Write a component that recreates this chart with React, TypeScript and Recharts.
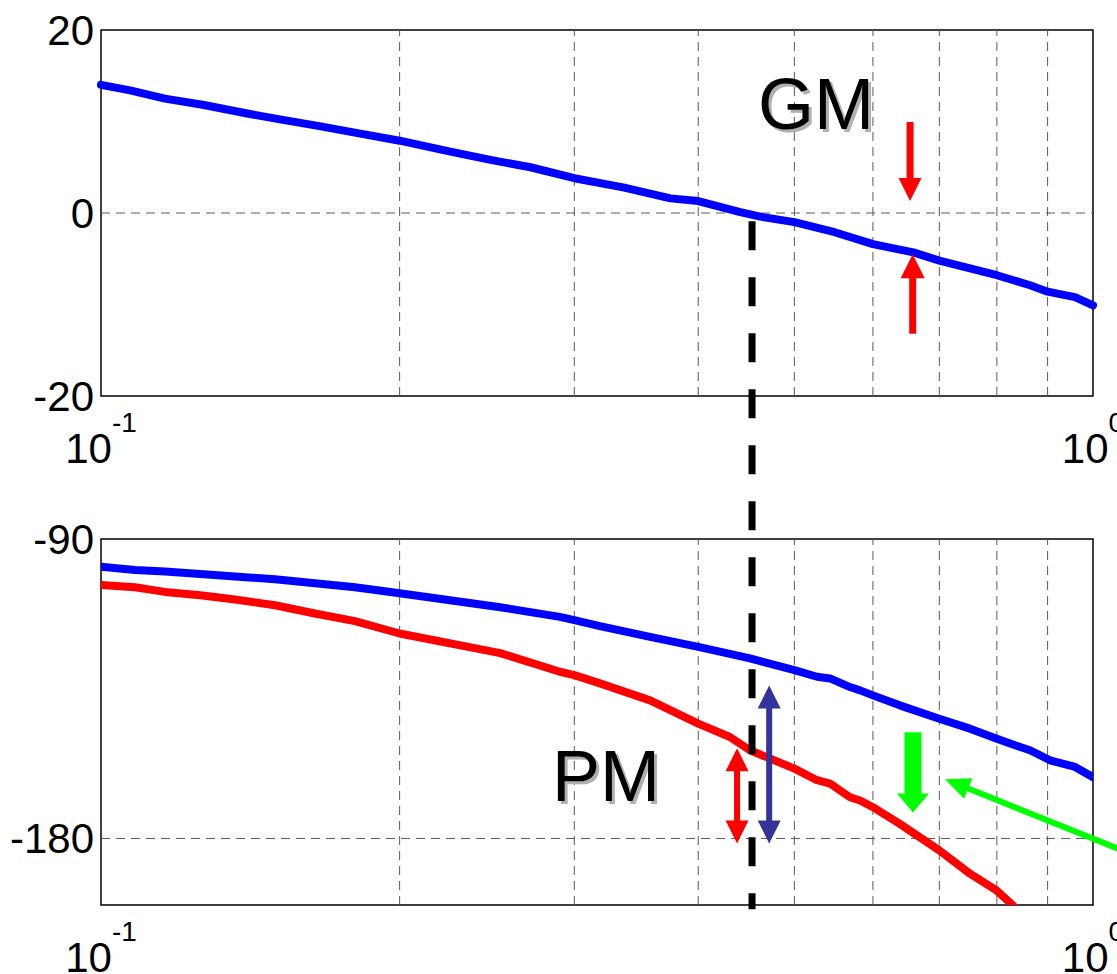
import React from 'react';
import { LineChart, Line, XAxis, YAxis, ReferenceLine, ReferenceArea, ReferenceDot } from 'recharts';

// ---------- data ----------
const FREQ_TICKS = [0.1, 1];
const GRID_X = [0.2, 0.3, 0.4, 0.5, 0.6, 0.7, 0.8, 0.9];

const MAG_TICKS = [-20, 0, 20];
const MAG_GRID_Y = [0];
const FREQ_MAG = [0.1, 0.107, 0.116, 0.127, 0.14, 0.152, 0.166, 0.182, 0.2, 0.225, 0.247, 0.271, 0.3, 0.336, 0.375, 0.4, 0.441, 0.462, 0.5, 0.549, 0.6, 0.659, 0.7, 0.8, 0.864, 0.9, 0.959, 1.0];
const MAG_DB = [14.0, 13.4, 12.5, 11.8, 10.9, 10.2, 9.5, 8.7, 7.9, 6.7, 5.8, 5.0, 3.8, 2.8, 1.6, 1.3, 0.1, -0.4, -1.0, -2.1, -3.4, -4.3, -5.2, -6.8, -7.9, -8.6, -9.2, -10.1];

const PHASE_TICKS = [-180, -90];
const PHASE_GRID_Y = [-180];
const FREQ_PHASE = [0.1, 0.1082, 0.116, 0.1259, 0.1365, 0.1498, 0.1643, 0.1803, 0.2, 0.2526, 0.2901, 0.3, 0.3184, 0.3577, 0.4, 0.4305, 0.451, 0.5, 0.527, 0.5431, 0.5689, 0.5824, 0.6, 0.6386, 0.7, 0.7516, 0.8, 0.8345, 0.8639, 0.905, 0.9592, 1.0];
const PHASE_BLUE = [-98.3, -99.3, -99.8, -100.5, -101.3, -102.1, -103.3, -104.5, -106.3, -110.5, -113.4, -114.4, -116.2, -119.4, -122.4, -124.5, -125.9, -129.4, -131.4, -131.9, -134.5, -135.5, -137.0, -140.0, -144.0, -147.0, -150.0, -152.0, -153.5, -156.5, -158.5, -161.6];
const PHASE_RED = [-103.8, -104.5, -105.9, -106.9, -108.2, -109.9, -112.4, -114.7, -118.4, -124.3, -129.9, -130.9, -133.4, -138.5, -145.5, -149.5, -153.5, -159.0, -162.5, -163.5, -167.6, -168.6, -170.6, -175.6, -183.6, -190.6, -195.7, -200.7, -204.5, null, null, null];

// annotation anchors (data coordinates)
const CROSSOVER_F = 0.4532;
const CROSSOVER_TOP = -0.9;
const CROSSOVER_BOTTOM = -76.1;
const GM_LABEL = { f: 0.4596, v: 9.2, text: 'GM' };
const PM_LABEL = { f: 0.2848, v: -168.6, text: 'PM' };
const GM_DOWN = [{ x: 0.654, y: 9.95 }, { x: 0.654, y: 1.3 }];
const GM_UP = [{ x: 0.658, y: -13.2 }, { x: 0.658, y: -4.5 }];
const PM_RED = [{ x: 0.4377, y: -152.9 }, { x: 0.4377, y: -181.5 }];
const PM_BLUE = [{ x: 0.4716, y: -134 }, { x: 0.4716, y: -181.5 }];
const GREEN_DOWN = [{ x: 0.6585, y: -148.1 }, { x: 0.6585, y: -172.2 }];
const GREEN_DIAG = [{ x: 1.1, y: -185 }, { x: 0.7093, y: -162.2 }];

const magData = FREQ_MAG.map((f, i) => ({ f, mag: MAG_DB[i] }));
const phaseData = FREQ_PHASE.map((f, i) => ({ f, blue: PHASE_BLUE[i], red: PHASE_RED[i] }));

// ---------- layout ----------
const W = 1117;
const H = 974;
const FONT = '"Liberation Sans", Arial, Helvetica, sans-serif';

const arrowPoints = (x1: number, y1: number, x2: number, y2: number, shaft: number, headW: number, headL: number, double: boolean) => {
  const dx = x2 - x1;
  const dy = y2 - y1;
  const len = Math.sqrt(dx * dx + dy * dy) || 1;
  const ux = dx / len;
  const uy = dy / len;
  const nx = -uy;
  const ny = ux;
  const p = (x: number, y: number, a: number, b: number) => `${x + ux * a + nx * b},${y + uy * a + ny * b}`;
  const s = shaft / 2;
  const h = headW / 2;
  if (!double) {
    return [
      p(x1, y1, 0, s),
      p(x2, y2, -headL, s),
      p(x2, y2, -headL, h),
      p(x2, y2, 0, 0),
      p(x2, y2, -headL, -h),
      p(x2, y2, -headL, -s),
      p(x1, y1, 0, -s),
    ].join(' ');
  }
  return [
    p(x1, y1, 0, 0),
    p(x1, y1, headL, h),
    p(x1, y1, headL, s),
    p(x2, y2, -headL, s),
    p(x2, y2, -headL, h),
    p(x2, y2, 0, 0),
    p(x2, y2, -headL, -h),
    p(x2, y2, -headL, -s),
    p(x1, y1, headL, -s),
    p(x1, y1, headL, -h),
  ].join(' ');
};

const arrowShape = (color: string, shaft: number, headW: number, headL: number, double: boolean) => (props: any) => (
  <polygon points={arrowPoints(props.x1, props.y1, props.x2, props.y2, shaft, headW, headL, double)} fill={color} stroke="none" />
);

const labelShape = (text: string) => (props: any) => (
  <g>
    <text x={props.cx + 3} y={props.cy + 3} fontSize={72} fontFamily={FONT} fill="#b0b0b0">{text}</text>
    <text x={props.cx} y={props.cy} fontSize={72} fontFamily={FONT} fill="#000">{text}</text>
  </g>
);

const ExpTick = (props: any) => {
  const { x, y, payload } = props;
  const exp = Math.round(Math.log10(payload.value));
  return (
    <text x={x} y={y + 67} textAnchor="middle" fontFamily={FONT} fontSize={42} fill="#000">
      <tspan>10</tspan>
      <tspan dy={-31} fontSize={28}>{String(exp)}</tspan>
    </text>
  );
};

const NumTick = (props: any) => {
  const { x, y, payload } = props;
  return (
    <text x={x} y={y + 14.5} textAnchor="end" fontFamily={FONT} fontSize={42} fill="#000">{String(payload.value)}</text>
  );
};

const gridStroke = '#5a5a5a';

export default function App() {
  return (
    <div style={{ position: 'absolute', left: 0, top: 0, width: W, height: H, background: '#fff', overflow: 'hidden' }}>
      {/* Phase panel */}
      <div style={{ position: 'absolute', left: 0, top: 0 }}>
        <LineChart width={W} height={H} data={phaseData} margin={{ top: 539, right: 24, bottom: 0, left: 11 }}>
          <XAxis dataKey="f" type="number" scale="log" domain={[0.1, 1]} ticks={FREQ_TICKS} interval={0}
            allowDataOverflow tick={(p: any) => <ExpTick {...p} />} tickSize={0} tickMargin={0} axisLine={false} tickLine={false} height={69} />
          <YAxis type="number" domain={[-200, -90]} ticks={PHASE_TICKS} interval={0} allowDataOverflow
            tick={(p: any) => <NumTick {...p} />} width={90} tickSize={0} tickMargin={7} axisLine={false} tickLine={false} />
          {GRID_X.map((g) => (
            <ReferenceLine key={'gx' + g} x={g} stroke={gridStroke} strokeWidth={1} strokeDasharray="9 6" />
          ))}
          {PHASE_GRID_Y.map((g) => (
            <ReferenceLine key={'gy' + g} y={g} stroke={gridStroke} strokeWidth={1} strokeDasharray="9 6" />
          ))}
          <ReferenceArea x1={0.1} x2={1} y1={-200} y2={-90} fill="none" fillOpacity={0} stroke="#000" strokeWidth={1.5} />
          <Line dataKey="blue" type="linear" stroke="#0000ff" strokeWidth={8} dot={false} strokeLinecap="round" strokeLinejoin="round" isAnimationActive={false} />
          <Line dataKey="red" type="linear" stroke="#ff0000" strokeWidth={8} dot={false} strokeLinejoin="round" isAnimationActive={false} />
          <ReferenceDot x={PM_LABEL.f} y={PM_LABEL.v} r={1} ifOverflow="visible" shape={labelShape(PM_LABEL.text)} />
          <ReferenceLine segment={PM_RED} ifOverflow="visible" shape={arrowShape('#ff0000', 6, 23, 23, true)} />
          <ReferenceLine segment={PM_BLUE} ifOverflow="visible" shape={arrowShape('#333399', 6, 23, 23, true)} />
          <ReferenceLine segment={GREEN_DOWN} ifOverflow="visible" shape={arrowShape('#00ff00', 17, 32, 19, false)} />
          <ReferenceLine segment={GREEN_DIAG} ifOverflow="visible" shape={arrowShape('#00ff00', 6, 22, 25, false)} />
        </LineChart>
      </div>
      {/* Magnitude panel (on top, carries the crossover line) */}
      <div style={{ position: 'absolute', left: 0, top: 0, pointerEvents: 'none' }}>
        <LineChart width={W} height={H} data={magData} margin={{ top: 30, right: 24, bottom: 508, left: 11 }}>
          <XAxis dataKey="f" type="number" scale="log" domain={[0.1, 1]} ticks={FREQ_TICKS} interval={0}
            tick={(p: any) => <ExpTick {...p} />} tickSize={0} tickMargin={0} axisLine={false} tickLine={false} height={70} />
          <YAxis type="number" domain={[-20, 20]} ticks={MAG_TICKS} interval={0}
            tick={(p: any) => <NumTick {...p} />} width={90} tickSize={0} tickMargin={7} axisLine={false} tickLine={false} />
          {GRID_X.map((g) => (
            <ReferenceLine key={'gx' + g} x={g} stroke={gridStroke} strokeWidth={1} strokeDasharray="9 6" />
          ))}
          {MAG_GRID_Y.map((g) => (
            <ReferenceLine key={'gy' + g} y={g} stroke={gridStroke} strokeWidth={1} strokeDasharray="9 6" />
          ))}
          <ReferenceArea x1={0.1} x2={1} y1={-20} y2={20} fill="none" fillOpacity={0} stroke="#000" strokeWidth={1.5} />
          <Line dataKey="mag" type="linear" stroke="#0000ff" strokeWidth={8} dot={false} strokeLinecap="round" strokeLinejoin="round" isAnimationActive={false} />
          <ReferenceDot x={GM_LABEL.f} y={GM_LABEL.v} r={1} ifOverflow="visible" shape={labelShape(GM_LABEL.text)} />
          <ReferenceLine segment={GM_DOWN} ifOverflow="visible" shape={arrowShape('#ff0000', 7, 23, 23, false)} />
          <ReferenceLine segment={GM_UP} ifOverflow="visible" shape={arrowShape('#ff0000', 7, 24, 24, false)} />
          <ReferenceLine segment={[{ x: CROSSOVER_F, y: CROSSOVER_TOP }, { x: CROSSOVER_F, y: CROSSOVER_BOTTOM }]} ifOverflow="visible"
            stroke="#000" strokeWidth={7} strokeDasharray="29 27" />
        </LineChart>
      </div>
    </div>
  );
}
